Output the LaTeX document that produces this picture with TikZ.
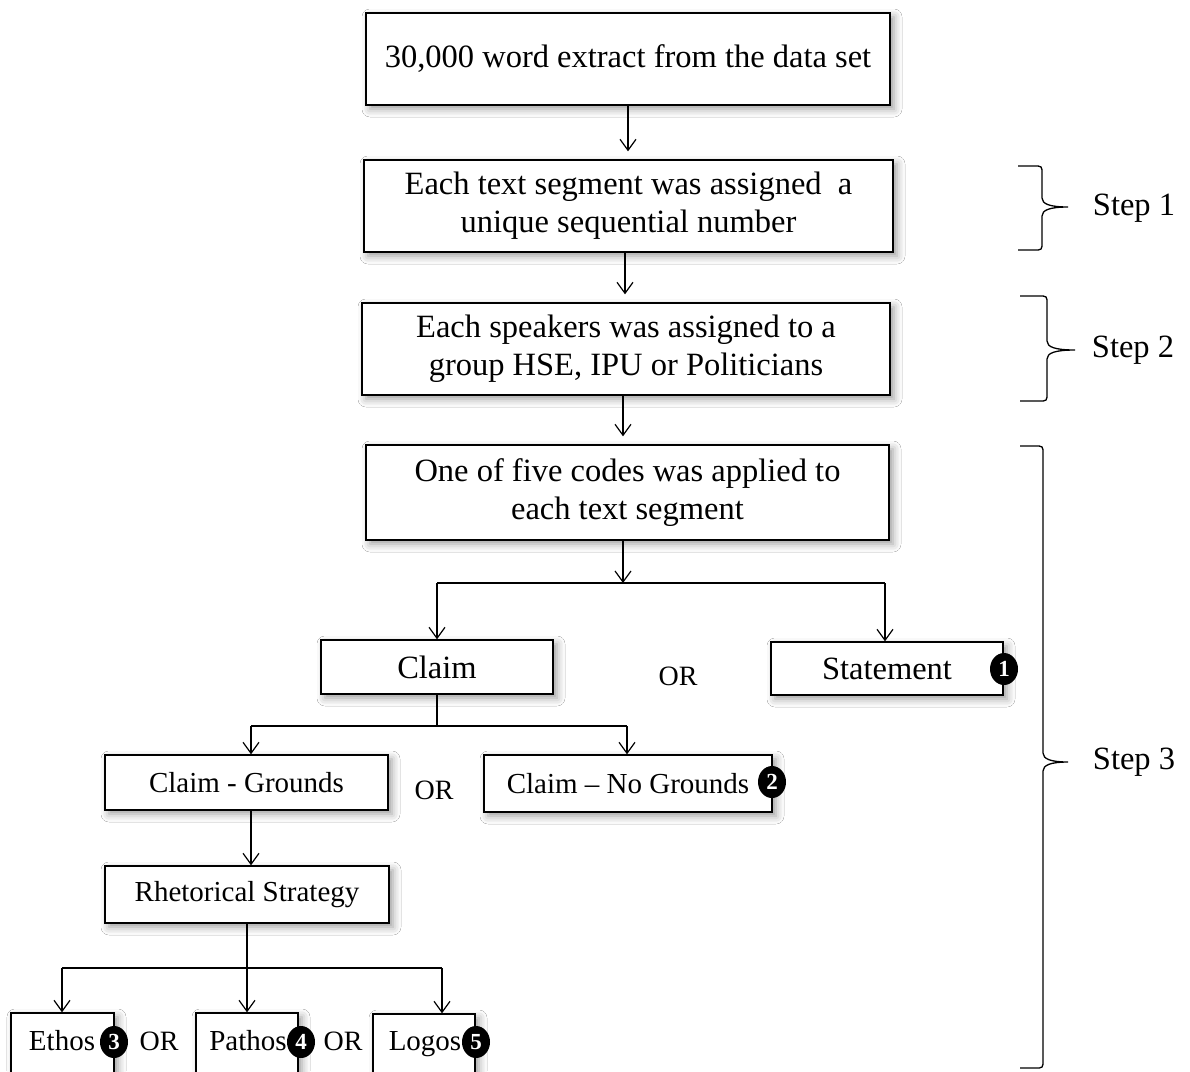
\documentclass[tikz,border=0pt]{standalone}
\usepackage{fontspec}
\setmainfont{Liberation Serif}
\usetikzlibrary{arrows.meta,shadows.blur,shapes.geometric}
\begin{document}
\begin{tikzpicture}[x=1pt,y=-1pt,
  box/.style={draw,line width=1.4pt,fill=white,inner sep=0pt,align=center,
    blur shadow={shadow xshift=4pt,shadow yshift=-4pt,shadow blur radius=8pt,shadow opacity=40}},
  big/.style={font=\fontsize{32.5}{38}\selectfont},
  small/.style={font=\fontsize{29}{33}\selectfont},
  orlabel/.style={font=\fontsize{28}{33}\selectfont},
  num/.style={ellipse,fill=black,inner sep=0pt,minimum width=28pt,minimum height=32pt,
    text=white,font=\fontsize{23}{23}\selectfont\bfseries},
  arr/.style={line width=1.2pt,-{Straight Barb[length=11pt,width=16pt]}},
  ln/.style={line width=1.2pt},
  brace/.style={line width=1.3pt},
  steplabel/.style={font=\fontsize{32.5}{38}\selectfont},
]
\fill[white] (0,0) rectangle (1190,1071);
\useasboundingbox (0,0) rectangle (1190,1071);
\clip (0,0) rectangle (1190,1071);

% main column
\node[box,big,minimum width=524pt,minimum height=92pt] (extract) at (628,59) {30,000 word extract from the data set};
\node[box,big,minimum width=529pt,minimum height=92pt] (number) at (628.5,206) {Each text segment was assigned\ \ a\\unique sequential number};
\node[box,big,minimum width=528pt,minimum height=92pt] (group) at (626,349) {Each speakers was assigned to a\\group HSE, IPU or Politicians};
\node[box,big,minimum width=523pt,minimum height=95pt] (codes) at (627.5,492.5) {One of five codes was applied to\\each text segment};

% code tree
\node[box,big,minimum width=232pt,minimum height=54pt] (claim) at (437,667) {Claim};
\node[box,big,minimum width=232pt,minimum height=53pt] (statement) at (887,668.5) {Statement};
\node[box,small,minimum width=283pt,minimum height=55pt] (grounds) at (246.5,782.5) {Claim - Grounds};
\node[box,small,minimum width=288pt,minimum height=57pt] (nogrounds) at (628,783.5) {Claim -- No Grounds};
\node[box,small,minimum width=284pt,minimum height=57pt] (strategy) at (247,894.5) {Rhetorical Strategy};
\node[box,minimum width=103pt,minimum height=80pt] (ethos) at (62.5,1053) {};
\node[box,minimum width=102pt,minimum height=80pt] (pathos) at (247,1053) {};
\node[box,minimum width=102pt,minimum height=80pt] (logos) at (424,1054) {};
\node[small,anchor=base] (ethostext) at (62,1050) {Ethos};
\node[small,anchor=base] (pathostext) at (248,1050) {Pathos};
\node[small,anchor=base] (logostext) at (425,1050) {Logos};

% OR labels
\node[orlabel] (or1) at (678,676) {OR};
\node[orlabel] (or2) at (434,790) {OR};
\node[orlabel,anchor=base] (or3) at (159,1050) {OR};
\node[orlabel,anchor=base] (or4) at (343,1050) {OR};

% numbered markers
\node[num] (n1) at (1004,669) {1};
\node[num] (n2) at (772,782) {2};
\node[num] (n3) at (114,1042) {3};
\node[num] (n4) at (301,1042) {4};
\node[num] (n5) at (476,1042) {5};

% main column arrows
\draw[arr,shorten >=8pt] (extract.south) -- (extract.south |- number.north);
\draw[arr,shorten >=8pt] (number.south -| 625,0) -- (625,0 |- group.north);
\draw[arr,shorten >=8pt] (group.south -| 623,0) -- (623,0 |- codes.north);

% split into claim / statement
\coordinate (j1) at (623,583);
\coordinate (j1l) at (437,583);
\coordinate (j1r) at (885,583);
\draw[arr] (codes.south -| j1) -- (j1);
\draw[ln] (j1l) -- (j1r);
\draw[arr] (j1l) -- (j1l |- claim.north);
\draw[arr] (j1r) -- (j1r |- statement.north);

% split into grounds / no grounds
\coordinate (j2l) at (251,726);
\coordinate (j2r) at (627,726);
\draw[ln] (claim.south) -- (claim.south |- j2l);
\draw[ln] (j2l) -- (j2r);
\draw[arr] (j2l) -- (j2l |- grounds.north);
\draw[arr] (j2r) -- (j2r |- nogrounds.north);
\draw[arr] (j2l |- grounds.south) -- (j2l |- strategy.north);

% split into the three strategies
\coordinate (j3l) at (62,968);
\coordinate (j3r) at (442,968);
\draw[arr] (strategy.south) -- (strategy.south |- pathos.north);
\draw[ln] (j3l) -- (j3r);
\draw[arr] (j3l) -- (j3l |- ethos.north);
\draw[arr] (j3r) -- (j3r |- logos.north);

% step braces
\draw[brace] (1018,166) -- (1034,166) .. controls (1042,166) .. (1042,174) -- (1042,198)
  .. controls (1042,204) and (1050,207) .. (1068,207)
  .. controls (1050,207) and (1042,210) .. (1042,216) -- (1042,242)
  .. controls (1042,250) .. (1034,250) -- (1018,250);
\node[steplabel] (step1) at (1134,208) {Step 1};

\draw[brace] (1020,296) -- (1039,296) .. controls (1047,296) .. (1047,304) -- (1047,341)
  .. controls (1047,347) and (1055,350) .. (1075,350)
  .. controls (1055,350) and (1047,353) .. (1047,359) -- (1047,393)
  .. controls (1047,401) .. (1039,401) -- (1020,401);
\node[steplabel] (step2) at (1133,350) {Step 2};

\draw[brace] (1020,446) -- (1035,446) .. controls (1043,446) .. (1043,454) -- (1043,753)
  .. controls (1043,759) and (1051,762) .. (1068,762)
  .. controls (1051,762) and (1043,765) .. (1043,771) -- (1043,1060)
  .. controls (1043,1068) .. (1035,1068) -- (1020,1068);
\node[steplabel] (step3) at (1134,762) {Step 3};
\end{tikzpicture}
\end{document}
